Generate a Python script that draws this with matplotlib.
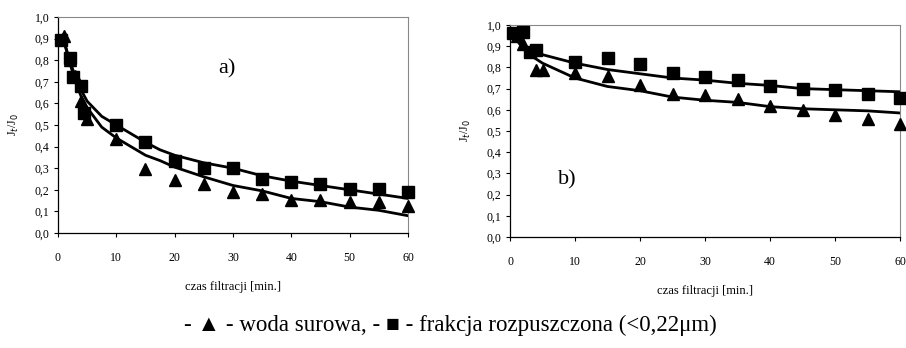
import numpy as np
import matplotlib.pyplot as plt

plt.rcParams['font.family'] = ['Liberation Serif', 'DejaVu Serif']

# a) - measured points
ta_tri = [1, 2, 3, 4, 5, 10, 15, 20, 25, 30, 35, 40, 45, 50, 55, 60]
ja_tri = [0.91, 0.80, 0.725, 0.61, 0.53, 0.435, 0.295, 0.245, 0.225, 0.19, 0.18, 0.155, 0.155, 0.145, 0.145, 0.125]
ta_sq = [0.5, 2, 2.5, 4, 4.5, 10, 15, 20, 25, 30, 35, 40, 45, 50, 55, 60]
ja_sq = [0.895, 0.81, 0.72, 0.68, 0.555, 0.50, 0.42, 0.335, 0.30, 0.30, 0.25, 0.235, 0.225, 0.205, 0.205, 0.19]
# a) - fitted curves
ta_fit = [0.5, 1, 2, 3, 4, 5, 7.5, 10, 12.5, 15, 17.5, 20, 25, 30, 35, 40, 45, 50, 55, 60]
ja_fit_sq = [0.91, 0.89, 0.80, 0.72, 0.66, 0.61, 0.54, 0.50, 0.46, 0.42, 0.385, 0.36, 0.325, 0.30, 0.265, 0.24, 0.22, 0.20, 0.18, 0.16]
ja_fit_tri = [0.91, 0.89, 0.79, 0.70, 0.63, 0.58, 0.49, 0.44, 0.40, 0.36, 0.335, 0.305, 0.26, 0.22, 0.195, 0.16, 0.145, 0.12, 0.105, 0.08]

# b) - measured points
tb_tri = [1, 2, 4, 5, 10, 15, 20, 25, 30, 35, 40, 45, 50, 55, 60]
jb_tri = [0.95, 0.91, 0.79, 0.79, 0.775, 0.76, 0.715, 0.675, 0.67, 0.65, 0.62, 0.60, 0.575, 0.555, 0.535]
tb_sq = [0.5, 2, 3, 4, 10, 15, 20, 25, 30, 35, 40, 45, 50, 55, 60]
jb_sq = [0.96, 0.965, 0.875, 0.88, 0.825, 0.845, 0.815, 0.775, 0.755, 0.74, 0.71, 0.70, 0.695, 0.675, 0.655]
# b) - fitted curves
tb_fit = [0.5, 2, 3, 5, 10, 15, 20, 25, 30, 35, 40, 45, 50, 55, 60]
jb_fit_sq = [0.96, 0.91, 0.885, 0.86, 0.82, 0.79, 0.77, 0.75, 0.74, 0.725, 0.715, 0.70, 0.695, 0.69, 0.685]
jb_fit_tri = [0.95, 0.89, 0.86, 0.82, 0.75, 0.71, 0.69, 0.66, 0.645, 0.635, 0.615, 0.605, 0.60, 0.595, 0.585]

xticks = [0, 10, 20, 30, 40, 50, 60]
yticks = np.round(np.arange(0, 1.01, 0.1), 1)

fig = plt.figure(figsize=(9.06, 3.48), dpi=100)
ax1 = fig.add_axes([58 / 906, 1 - 233 / 348, 350 / 906, 216 / 348])
ax2 = fig.add_axes([510 / 906, 1 - 237 / 348, 390 / 906, 212 / 348])

panels = [
    (ax1, ta_tri, ja_tri, ta_sq, ja_sq, ta_fit, ja_fit_sq, ja_fit_tri, 'a)', 29, 0.76),
    (ax2, tb_tri, jb_tri, tb_sq, jb_sq, tb_fit, jb_fit_sq, jb_fit_tri, 'b)', 8.8, 0.27),
]

for ax, tt, jt, ts, js, tf, fs, ft, lab, lx, ly in panels:
    ax.plot(tf, fs, color='black', lw=2.0, zorder=2)
    ax.plot(tf, ft, color='black', lw=2.0, zorder=2)
    ax.plot(tt, jt, linestyle='none', marker='^', color='black', markersize=9, zorder=3, clip_on=False)
    ax.plot(ts, js, linestyle='none', marker='s', color='black', markersize=8, zorder=3, clip_on=False)
    ax.set_xlim(0, 60)
    ax.set_ylim(0, 1.0)
    ax.set_xticks(xticks)
    ax.set_yticks(yticks)
    ax.set_yticklabels([f'{v:.1f}'.replace('.', ',') for v in yticks])
    ax.tick_params(labelsize=8.5, length=3, width=0.8, direction='out')
    ax.tick_params(axis='x', pad=11)
    ax.tick_params(axis='y', pad=3)
    for s in ['top', 'right']:
        ax.spines[s].set_color('#888888')
        ax.spines[s].set_linewidth(0.8)
    for s in ['left', 'bottom']:
        ax.spines[s].set_linewidth(0.9)
    ax.set_xlabel('czas filtracji [min.]', fontsize=9, labelpad=12)
    ax.set_ylabel('J$_t$/J$_0$', fontsize=8.5, labelpad=10)
    ax.text(lx, ly, lab, fontsize=16, ha='center', va='center')

fig.text(450 / 906, 1 - 325 / 348, '- \u25b2 - woda surowa, - \u25a0 - frakcja rozpuszczona (<0,22\u03bcm)',
         ha='center', va='center', fontsize=16.5, family=['Liberation Serif', 'DejaVu Sans'])

fig.savefig('out.png', dpi=100)
